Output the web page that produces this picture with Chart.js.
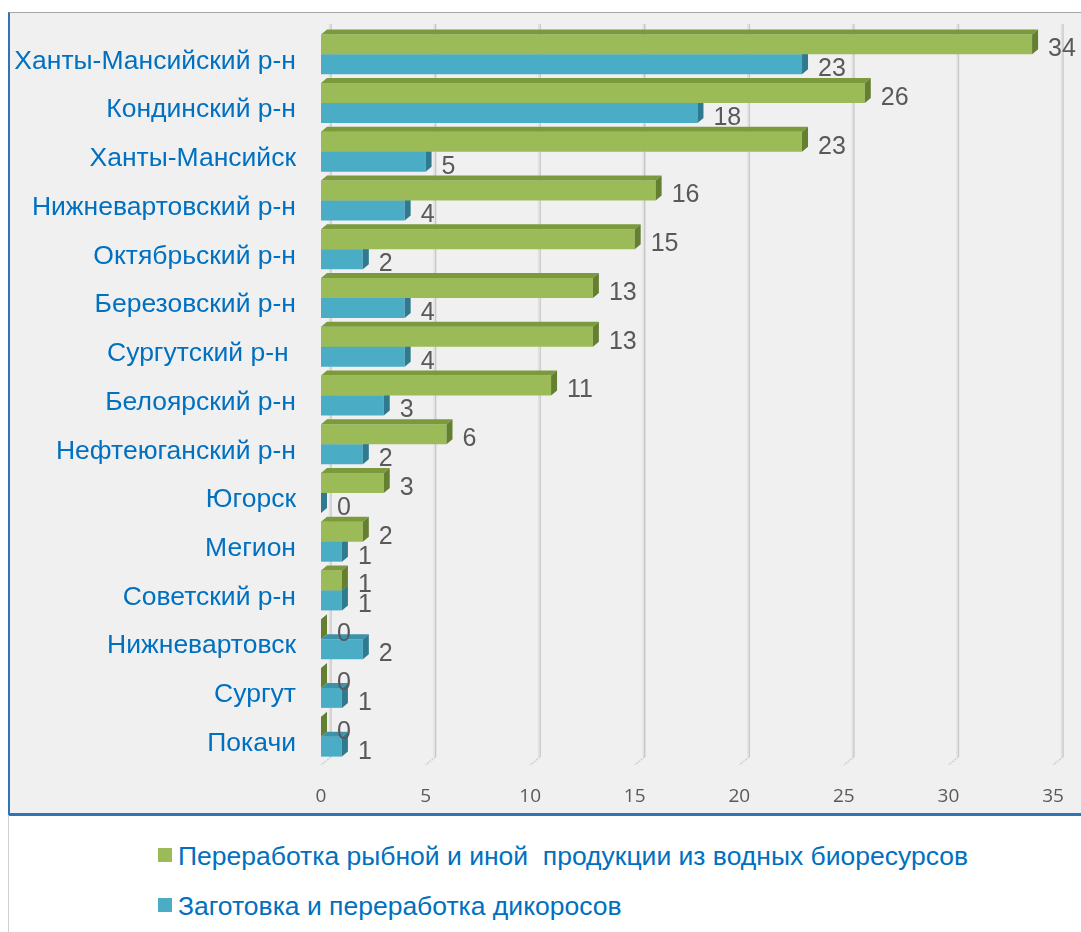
<!DOCTYPE html>
<html lang="ru">
<head>
<meta charset="UTF-8">
<title>Переработка и заготовка по районам</title>
<script src="https://cdn.jsdelivr.net/npm/chart.js"></script>
<style>
  body { margin: 0; background: #fff; font-family: "Liberation Sans", Arial, sans-serif; }
  .frame {
    position: absolute; left: 8px; top: 12px; width: 1073px; height: 800px;
    background: #f0f0f0;
    border-top: 1px solid #a6a6a6;
    border-left: 2px solid #2e75b6;
    border-bottom: 3px solid #2e75b6;
  }
  .leftline { position: absolute; left: 8px; top: 815px; width: 1px; height: 117px; background: #d0d0d0; }
  .wrap { position: absolute; left: 0; top: 0; width: 1081px; height: 815px; }
  .legend { position: absolute; left: 158px; top: 837px; color: #0070c0; font-size: 26.5px; }
  .legend div { position: relative; height: 50px; padding-left: 20px; white-space: pre; line-height: 38px; }
  .legend span { position: absolute; left: 0; top: 11px; width: 14px; height: 14px; }
</style>
</head>
<body>
<div class="frame"></div>
<div class="leftline"></div>
<div class="wrap"><canvas id="chart"></canvas></div>
<div class="legend" id="legend"></div>

<script>
const categories = ['Ханты-Мансийский р-н', 'Кондинский р-н', 'Ханты-Мансийск', 'Нижневартовский р-н',
  'Октябрьский р-н', 'Березовский р-н', 'Сургутский р-н ', 'Белоярский р-н', 'Нефтеюганский р-н',
  'Югорск', 'Мегион', 'Советский р-н', 'Нижневартовск', 'Сургут', 'Покачи'];
const seriesNames = ['Переработка рыбной и иной  продукции из водных биоресурсов', 'Заготовка и переработка дикоросов'];
const fishValues = [34, 26, 23, 16, 15, 13, 13, 11, 6, 3, 2, 1, 0, 0, 0];
const wildValues = [23, 18, 5, 4, 2, 4, 4, 3, 2, 0, 1, 1, 2, 1, 1];
const xTicks = [0, 5, 10, 15, 20, 25, 30, 35];

const fronts = ['#9bbb59', '#4bacc6'];
const tops = ['#7a9a3c', '#3a93ab'];
const sides = ['#647f2f', '#2f7a8f'];

Chart.defaults.font.family = '"Liberation Sans", Arial, sans-serif';

// back wall grid lines, shifted like in the 3D original
const wallGrid = {
  id: 'wallGrid',
  beforeDatasetsDraw(chart) {
    const xs = chart.scales.x, area = chart.chartArea, c = chart.ctx;
    c.save();
    xs.ticks.forEach(t => {
      const x = xs.getPixelForValue(t.value) + 10;
      c.strokeStyle = '#c8c8c8'; c.lineWidth = 1.5;
      c.beginPath(); c.moveTo(x, area.top - 6); c.lineTo(x, area.bottom - 4); c.stroke();
      c.strokeStyle = '#e2e2e2'; c.lineWidth = 1.5;
      c.beginPath(); c.moveTo(x - 1.5, area.top - 6); c.lineTo(x - 1.5, area.bottom - 4); c.stroke();
      c.strokeStyle = '#cfcfcf'; c.lineWidth = 1.5; c.setLineDash([2, 1]);
      c.beginPath(); c.moveTo(x, area.bottom - 4); c.lineTo(x - 10, area.bottom + 4); c.stroke();
      c.setLineDash([]);
    });
    c.restore();
  }
};

// top and side faces of each bar
const barFaces = {
  id: 'barFaces',
  afterDatasetDraw(chart, args) {
    const c = chart.ctx, i = args.index, dx = 6, dy = 5;
    c.save();
    args.meta.data.forEach(el => {
      const x0 = el.base, x1 = el.x, top = el.y - el.height / 2, bot = el.y + el.height / 2;
      c.fillStyle = tops[i];
      c.beginPath();
      c.moveTo(x0, top); c.lineTo(x0 + dx, top - dy); c.lineTo(x1 + dx, top - dy); c.lineTo(x1, top);
      c.closePath(); c.fill();
      c.fillStyle = sides[i];
      c.beginPath();
      c.moveTo(x1, top); c.lineTo(x1 + dx, top - dy); c.lineTo(x1 + dx, bot - dy); c.lineTo(x1, bot);
      c.closePath(); c.fill();
    });
    c.restore();
  }
};

const valueLabels = {
  id: 'valueLabels',
  afterDatasetsDraw(chart) {
    const c = chart.ctx;
    c.save();
    c.font = '25px "Liberation Sans", Arial, sans-serif';
    c.fillStyle = '#595959';
    c.textAlign = 'left';
    c.textBaseline = 'middle';
    chart.data.datasets.forEach((ds, i) => {
      chart.getDatasetMeta(i).data.forEach((el, j) => {
        c.fillText(String(ds.data[j]), el.x + 16, el.y + 5);
      });
    });
    c.restore();
  }
};

const noPad = s => { s.paddingTop = 0; s.paddingBottom = 0; s.paddingLeft = 0; s.paddingRight = 0; };

new Chart(document.getElementById('chart'), {
  type: 'bar',
  data: {
    labels: categories,
    datasets: [
      { label: seriesNames[0], data: fishValues, backgroundColor: fronts[0], categoryPercentage: 0.82, barPercentage: 1 },
      { label: seriesNames[1], data: wildValues, backgroundColor: fronts[1], categoryPercentage: 0.82, barPercentage: 1 }
    ]
  },
  options: {
    indexAxis: 'y',
    responsive: true,
    maintainAspectRatio: false,
    animation: false,
    layout: { padding: { top: 30, right: 28, left: 0, bottom: 0 } },
    plugins: { legend: { display: false }, tooltip: { enabled: false } },
    scales: {
      x: {
        min: 0, max: 35,
        afterBuildTicks: s => { s.ticks = xTicks.map(v => ({ value: v })); },
        afterFit: s => { s.height = 54; noPad(s); },
        grid: { display: false, drawTicks: false },
        border: { display: false },
        ticks: { padding: 24, color: '#595959', font: { size: 19, family: '"Open Sans", sans-serif' } }
      },
      y: {
        afterFit: s => { s.width = 321; noPad(s); },
        grid: { display: false, drawTicks: false },
        border: { display: false },
        ticks: { padding: 25, labelOffset: 7, color: '#0070c0', font: { size: 26.5 } }
      }
    }
  },
  plugins: [wallGrid, barFaces, valueLabels]
});

const legend = document.getElementById('legend');
seriesNames.forEach((name, i) => {
  const row = document.createElement('div');
  const sw = document.createElement('span');
  sw.style.background = fronts[i];
  row.appendChild(sw);
  row.appendChild(document.createTextNode(name));
  legend.appendChild(row);
});
</script>
</body>
</html>
